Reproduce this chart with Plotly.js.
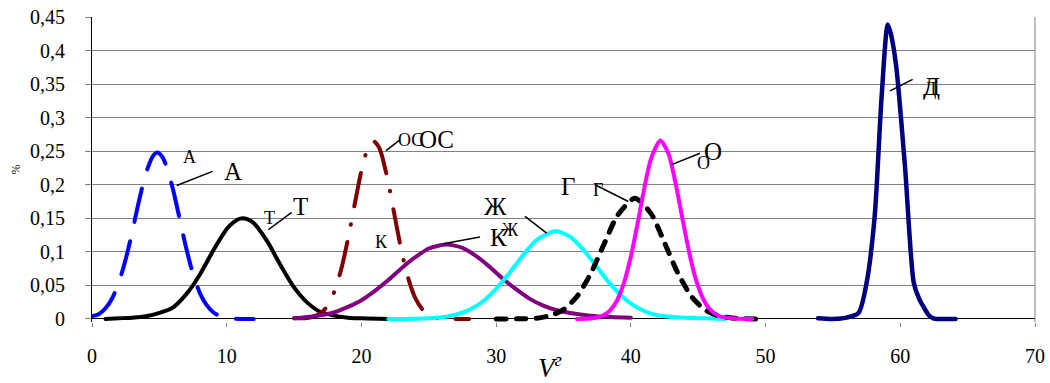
<!DOCTYPE html>
<html>
<head>
<meta charset="utf-8">
<script src="https://cdn.plot.ly/plotly-3.0.1.min.js"></script>
<style>
  html, body { margin: 0; padding: 0; background: #fff; }
  #chart { width: 1050px; height: 383px; }
</style>
</head>
<body>
<div id="chart"></div>
<script>
// ---- data ----
const seriesNames = ['А', 'Т', 'ОС', 'К', 'Ж', 'Г', 'О', 'Д'];

const xA = [0, 0.5, 1, 1.5, 2, 2.5, 3, 3.5, 4, 4.5, 4.85, 5.2, 5.5, 6, 6.5, 7, 7.5, 8, 8.5, 9, 9.5, 10, 11, 12];
const yA = [0.004, 0.007, 0.016, 0.031, 0.055, 0.089, 0.131, 0.177, 0.217, 0.242, 0.248, 0.242, 0.229, 0.194, 0.150, 0.105, 0.067, 0.039, 0.021, 0.010, 0.004, 0.001, 0, 0];

const xT = [1, 2, 3, 4, 5, 6, 7, 8, 9, 10, 10.5, 11, 11.5, 12, 13, 14, 15, 16, 17, 18, 19, 20, 22];
const yT = [0, 0.001, 0.002, 0.004, 0.009, 0.017, 0.037, 0.066, 0.102, 0.134, 0.144, 0.1495, 0.149, 0.143, 0.116, 0.080, 0.047, 0.024, 0.010, 0.005, 0.002, 0.001, 0];

const xOS = [15, 15.5, 16, 16.5, 17, 17.5, 18, 18.5, 19, 19.5, 20, 20.5, 20.9, 21.3, 21.5, 22, 22.5, 23, 23.5, 24, 24.5, 25, 25.5, 26, 27, 28];
const yOS = [0.001, 0.001, 0.0015, 0.004, 0.009, 0.020, 0.041, 0.074, 0.119, 0.171, 0.221, 0.256, 0.265, 0.256, 0.245, 0.203, 0.150, 0.099, 0.059, 0.031, 0.015, 0.006, 0.002, 0.001, 0, 0];

const xK = [15, 16, 17, 18, 19, 20, 21, 22, 23, 24, 25, 26.3, 27.5, 28.5, 29.5, 30.5, 31.5, 32.5, 33.5, 34.5, 35.5, 37, 38.5, 40];
const yK = [0.001, 0.003, 0.0056, 0.010, 0.018, 0.028, 0.042, 0.058, 0.076, 0.092, 0.105, 0.111, 0.106, 0.094, 0.078, 0.060, 0.044, 0.030, 0.020, 0.013, 0.009, 0.005, 0.003, 0.002];

const xZh = [22, 24, 25, 26, 27, 28, 29, 30, 31, 32, 33, 34.4, 35.5, 36.5, 37.5, 38.5, 39.5, 40.5, 41.5, 42.5, 44, 45.5, 47];
const yZh = [0, 0.0003, 0.001, 0.0026, 0.0063, 0.0135, 0.026, 0.045, 0.069, 0.095, 0.1175, 0.131, 0.1225, 0.1025, 0.077, 0.0515, 0.031, 0.0166, 0.008, 0.004, 0.002, 0.001, 0];

const xG = [30, 32, 33, 34, 35, 36, 37, 38, 39, 40.3, 41.5, 42.5, 43.5, 44.5, 45.5, 46.5, 47.5, 49.5];
const yG = [0, 0.0003, 0.001, 0.005, 0.014, 0.0335, 0.067, 0.111, 0.154, 0.180, 0.157, 0.1135, 0.068, 0.0335, 0.0137, 0.0046, 0.0015, 0];

const xO = [36, 37, 37.5, 38, 38.5, 39, 39.5, 40, 40.5, 41, 41.5, 42.2, 42.8, 43.3, 43.8, 44.3, 44.8, 45.3, 45.8, 46.5, 47.5, 49];
const yO = [0, 0.0007, 0.0022, 0.0058, 0.0136, 0.0287, 0.0545, 0.093, 0.142, 0.195, 0.239, 0.266, 0.246, 0.2045, 0.1525, 0.102, 0.061, 0.033, 0.016, 0.0048, 0.001, 0];

const xD = [53.9, 55, 56, 56.9, 57.5, 58.1, 58.6, 59.07, 59.3, 59.7, 60.35, 61.0, 61.4, 61.7, 62.1, 62.45, 63, 64.1];
const yD = [0.001, 0, 0.002, 0.009, 0.054, 0.153, 0.327, 0.439, 0.425, 0.376, 0.227, 0.054, 0.030, 0.019, 0.006, 0.001, 0, 0];

const xTicks = [0, 10, 20, 30, 40, 50, 60, 70];
const yTicks = [0, 0.05, 0.1, 0.15, 0.2, 0.25, 0.3, 0.35, 0.4, 0.45];

// ---- styling ----
const FONT = 'Liberation Serif, Times New Roman, serif';

function curve(x, y, color, width, dash) {
  return {
    type: 'scatter', mode: 'lines', x: x, y: y,
    line: { color: color, width: width, dash: dash || 'solid', shape: 'spline', smoothing: 0.7 },
    hoverinfo: 'skip', showlegend: false
  };
}

const traces = [
  curve(xA, yA, '#0000FF', 4, '34px,20px'),
  curve(xT, yT, '#000000', 4),
  curve(xOS, yOS, '#800000', 4, '34px,18px,0.5px,18px'),
  curve(xK, yK, '#800080', 4),
  curve(xZh, yZh, '#00FFFF', 4),
  curve(xG, yG, '#000000', 5, '10px,10px'),
  curve(xO, yO, '#FF00FF', 4),
  curve(xD, yD, '#000080', 4.5)
];

// label positions (large label, small label, leader line)
const labelSpec = [
  { big: [10.44, 0.220], small: [7.27, 0.242], lead: [[6.29, 0.199], [8.95, 0.220]] },
  { big: [15.44, 0.168], small: [13.21, 0.151], lead: [[13.09, 0.133], [14.82, 0.159]] },
  { big: [25.59, 0.267], small: [23.61, 0.267], lead: [[21.82, 0.251], [22.86, 0.267]] },
  { big: [30.16, 0.121], small: [21.51, 0.114], lead: [[26.08, 0.112], [28.80, 0.122]] },
  { big: [29.92, 0.167], small: [31.03, 0.133], lead: [[32.14, 0.153], [33.75, 0.128]] },
  { big: [35.36, 0.198], small: [37.58, 0.192], lead: [[37.34, 0.200], [39.81, 0.175]] },
  { big: [46.12, 0.250], small: [45.38, 0.232], lead: [[43.03, 0.230], [45.13, 0.247]] },
  { big: [62.33, 0.346], small: [62.20, 0.342], lead: [[59.24, 0.340], [60.92, 0.357]] }
];

const annotations = [];
const shapes = [];
seriesNames.forEach((name, i) => {
  const s = labelSpec[i];
  annotations.push({ x: s.small[0], y: s.small[1], xref: 'x', yref: 'y', text: name, showarrow: false,
    font: { family: FONT, size: 18, color: '#000' }, xanchor: 'center', yanchor: 'middle' });
  annotations.push({ x: s.big[0], y: s.big[1], xref: 'x', yref: 'y', text: name, showarrow: false,
    font: { family: FONT, size: 25, color: '#000' }, xanchor: 'center', yanchor: 'middle' });
  shapes.push({ type: 'line', xref: 'x', yref: 'y', x0: s.lead[0][0], y0: s.lead[0][1], x1: s.lead[1][0], y1: s.lead[1][1],
    line: { color: '#000', width: 1.5 } });
});

// x-axis title placed like the original
annotations.push({ xref: 'paper', yref: 'paper', x: 0.4855, y: -0.143, text: '<i>V</i><sup><i>г</i></sup>',
  showarrow: false, font: { family: FONT, size: 27, color: '#000' }, xanchor: 'center', yanchor: 'middle' });

// right border of plot area
shapes.push({ type: 'line', xref: 'paper', yref: 'paper', x0: 1, x1: 1, y0: 0, y1: 1, line: { color: '#808080', width: 1 } });

const layout = {
  width: 1050, height: 383,
  margin: { l: 92, r: 15, t: 17, b: 61 },
  paper_bgcolor: '#fff', plot_bgcolor: '#fff',
  separators: ', ',
  font: { family: FONT, size: 20, color: '#000' },
  showlegend: false,
  xaxis: {
    range: [0, 70], tickvals: xTicks, ticks: 'outside', ticklen: 4, tickcolor: '#808080',
    showgrid: false, zeroline: false, showline: false,
    tickfont: { family: FONT, size: 20, color: '#000' }, ticklabelstandoff: 12
  },
  yaxis: {
    range: [-0.0045, 0.45], tickvals: yTicks, ticks: 'outside', ticklen: 6, tickcolor: '#808080',
    showgrid: true, gridcolor: '#808080', gridwidth: 1,
    zeroline: true, zerolinecolor: '#000', zerolinewidth: 1,
    showline: true, linecolor: '#000', linewidth: 1,
    tickfont: { family: FONT, size: 20, color: '#000' }, ticklabelstandoff: 16,
    title: { text: '%', font: { family: FONT, size: 12, color: '#000' }, standoff: 6 }
  },
  annotations: annotations,
  shapes: shapes
};

Plotly.newPlot('chart', traces, layout, { staticPlot: true, displayModeBar: false }).then(() => {
  document.querySelectorAll('.scatterlayer path.js-line').forEach(p => {
    p.style.strokeLinecap = 'round';
    p.style.strokeLinejoin = 'round';
  });
});
</script>
</body>
</html>
